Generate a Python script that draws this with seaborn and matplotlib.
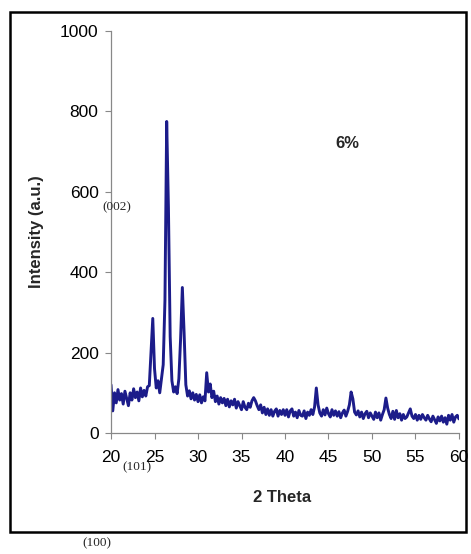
import numpy as np
import pandas as pd
import matplotlib
matplotlib.use("Agg")
import matplotlib.pyplot as plt
import seaborn as sns
from matplotlib.patches import Rectangle

# 2-theta grid (0.2 degree steps from 20 to 60)
two_theta = np.round(np.arange(20.0, 60.0001, 0.2), 1)

intensity = [
    120, 55, 100, 75, 108, 82, 98, 72, 104, 86,       # 20.0-21.8
    68, 100, 82, 110, 88, 102, 80, 112, 90, 106,      # 22.0-23.8
    92, 115, 118, 200, 285, 160, 112, 130, 100, 135,  # 24.0-25.8
    170, 330, 775, 560, 240, 130, 102, 115, 98, 135,  # 26.0-27.8
    235, 362, 250, 120, 92, 105, 85, 100, 82, 96,     # 28.0-29.8
    78, 95, 75, 90, 80, 150, 102, 122, 88, 104,       # 30.0-31.8
    78, 92, 72, 88, 75, 86, 68, 84, 65, 80,           # 32.0-33.8
    70, 84, 62, 78, 68, 58, 78, 64, 58, 74,           # 34.0-35.8
    64, 80, 88, 80, 68, 58, 70, 50, 64, 46,           # 36.0-37.8
    60, 44, 58, 42, 54, 60, 42, 56, 46, 58,           # 38.0-39.8
    44, 58, 40, 55, 60, 42, 52, 38, 56, 44,           # 40.0-41.8
    42, 55, 36, 52, 44, 58, 46, 65, 112, 70,          # 42.0-43.8
    50, 42, 58, 45, 62, 48, 40, 58, 44, 55,           # 44.0-45.8
    42, 53, 38, 50, 57, 42, 54, 70, 102, 85,          # 46.0-47.8
    52, 45, 55, 40, 52, 36, 48, 54, 38, 50,           # 48.0-49.8
    42, 34, 52, 38, 50, 32, 46, 58, 87, 62,           # 50.0-51.8
    46, 36, 54, 34, 56, 38, 48, 32, 46, 36,           # 52.0-53.8
    40, 50, 60, 42, 36, 46, 32, 44, 34, 46,           # 54.0-55.8
    38, 32, 44, 35, 28, 42, 33, 24, 40, 30,           # 56.0-57.8
    42, 27, 38, 22, 44, 32, 46, 27, 40, 44,           # 58.0-59.8
    35,                                               # 60.0
]

x_ticks = [20, 25, 30, 35, 40, 45, 50, 55, 60]
y_ticks = [0, 200, 400, 600, 800, 1000]

df = pd.DataFrame({"2 Theta": two_theta, "Intensity": intensity})

sns.set_style("ticks")
plt.rcParams["font.family"] = ["Liberation Sans", "DejaVu Sans"]

fig = plt.figure(figsize=(4.71, 5.54), dpi=100)
ax = fig.add_axes([0.2357, 0.2184, 0.7388, 0.7256])

sns.lineplot(data=df, x="2 Theta", y="Intensity", ax=ax, color="#1c1c8a",
             linewidth=2.1, estimator=None)

ax.set_xlim(20, 60)
ax.set_ylim(0, 1000)
ax.set_xticks(x_ticks)
ax.set_yticks(y_ticks)
ax.tick_params(axis="both", labelsize=12.5, colors="#888888", labelcolor="black",
               length=4, width=0.8, direction="out")
ax.tick_params(axis="x", pad=8)
ax.tick_params(axis="y", pad=5)
for side in ["top", "right"]:
    ax.spines[side].set_visible(False)
for side in ["left", "bottom"]:
    ax.spines[side].set_color("#888888")
    ax.spines[side].set_linewidth(0.9)

ax.set_xlabel("")
ax.set_ylabel("")
fig.text(282 / 471, 1 - 497 / 554, "2 Theta", ha="center", va="center",
         fontsize=12, fontweight="bold")
fig.text(37 / 471, 1 - 232 / 554, "Intensity (a.u.)", ha="center", va="center",
         rotation=90, fontsize=12, fontweight="bold")
fig.text(347 / 471, 1 - 143 / 554, "6%", ha="center", va="center",
         fontsize=12, fontweight="bold")

serif = ["Liberation Serif", "DejaVu Serif"]
fig.text(117 / 471, 1 - 207 / 554, "(002)", ha="center", va="center",
         fontsize=9.5, family=serif)
fig.text(137 / 471, 1 - 467 / 554, "(101)", ha="center", va="center",
         fontsize=9.5, family=serif)
fig.text(97 / 471, 1 - 543 / 554, "(100)", ha="center", va="center",
         fontsize=9.5, family=serif)

frame = Rectangle((10 / 471, 1 - 532 / 554), 456 / 471, 520 / 554,
                  transform=fig.transFigure, fill=False, edgecolor="black",
                  linewidth=1.8)
fig.patches.append(frame)

fig.savefig("out.png", dpi=100)
